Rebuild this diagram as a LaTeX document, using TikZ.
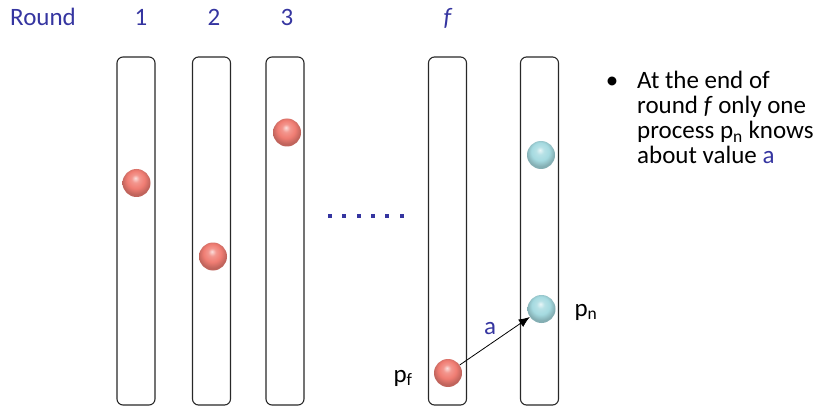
\documentclass[tikz,border=0pt]{standalone}
\usepackage{fontspec}
\setmainfont{Carlito}
\usetikzlibrary{arrows.meta}
\definecolor{txtblue}{RGB}{53,53,160}
\definecolor{redball}{RGB}{240,125,115}
\definecolor{cyanball}{RGB}{165,218,224}
\definecolor{barline}{RGB}{40,40,40}
\pgfdeclareradialshading{redsphere}{\pgfpoint{-2bp}{9bp}}{%
  color(0bp)=(redball!25!white); color(7bp)=(redball!80!white);
  color(16bp)=(redball); color(25bp)=(redball!80!black); color(50bp)=(redball!80!black)}
\pgfdeclareradialshading{cyansphere}{\pgfpoint{-2bp}{9bp}}{%
  color(0bp)=(cyanball!25!white); color(7bp)=(cyanball!80!white);
  color(16bp)=(cyanball); color(25bp)=(cyanball!80!black); color(50bp)=(cyanball!80!black)}
\tikzset{
  bar/.style={draw=barline, line width=1.1pt, rounded corners=6pt, minimum width=38pt, minimum height=348pt, inner sep=0pt},
  redp/.style={circle, minimum size=28pt, inner sep=0pt, shading=redsphere},
  cyanp/.style={circle, minimum size=28pt, inner sep=0pt, shading=cyansphere},
  lbl/.style={font=\fontsize{25}{25}\selectfont, inner sep=0pt},
  bluelbl/.style={lbl, text=txtblue},
  dotsq/.style={fill=txtblue, minimum size=4pt, inner sep=0pt},
  msg/.style={-{Latex[length=11pt,width=9pt]}, line width=0.8pt}
}
\begin{document}
\begin{tikzpicture}[x=1pt,y=-1pt]
\useasboundingbox (0,0) rectangle (820,409);
% header
\node[bluelbl, anchor=base west] (round) at (10,25.5) {Round};
\node[bluelbl, anchor=base] (r1) at (141,25.5) {1};
\node[bluelbl, anchor=base] (r2) at (214,25.5) {2};
\node[bluelbl, anchor=base] (r3) at (287,25.5) {3};
\node[bluelbl, anchor=base] (rf) at (448,25.5) {\textit{f}};
% bars
\node[bar] (bar1) at (136,231) {};
\node[bar] (bar2) at (211.5,231) {};
\node[bar] (bar3) at (285,231) {};
\node[bar] (barf) at (447.5,231) {};
\node[bar] (barn) at (539.5,231) {};
% balls
\node[redp] (p1) at (136.5,183) {};
\node[redp] (p2) at (213,256.5) {};
\node[redp] (p3) at (287,132.5) {};
\node[redp] (pf) at (448,373) {};
\node[cyanp] (q1) at (541,155) {};
\node[cyanp] (pn) at (541.5,309) {};
% dots
\foreach \i in {0,...,5} {
  \node[dotsq] (d\i) at (330+14.3*\i,216) {};
}
% arrow
\draw[msg] (pf) -- (pn);
\node[bluelbl] (a) at (490,329) {a};
\node[lbl, anchor=base] (pflbl) at (403,382) {p\textsubscript{f}};
\node[lbl, anchor=base] (pnlbl) at (586,316) {p\textsubscript{n}};
% bullet text
\node[lbl] (bul) at (612,83) {•};
\node[lbl, anchor=base west] (l1) at (637,89) {At the end of};
\node[lbl, anchor=base west] (l2) at (637,114) {round \textit{f} only one};
\node[lbl, anchor=base west] (l3) at (637,139) {process p\textsubscript{n} knows};
\node[lbl, anchor=base west] (l4) at (637,164) {about value \textcolor{txtblue}{a}};
\end{tikzpicture}
\end{document}
